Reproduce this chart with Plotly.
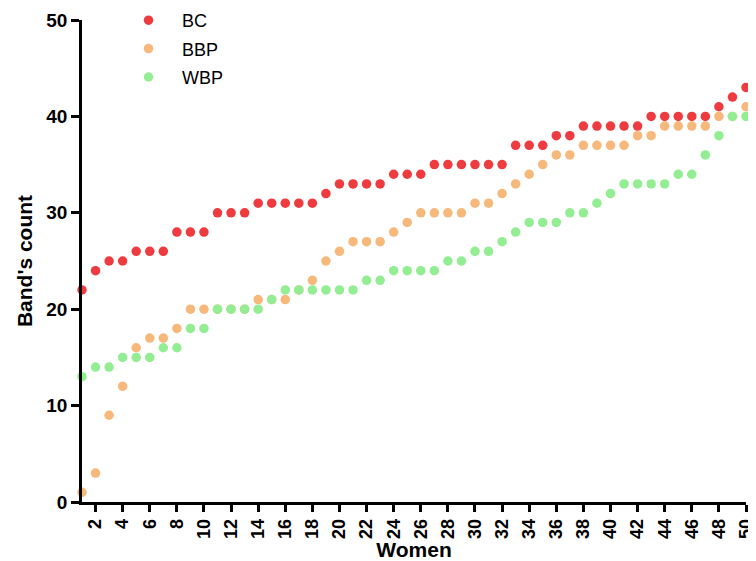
import plotly.graph_objects as go

women = list(range(1, 51))
bc = [22, 24, 25, 25, 26, 26, 26, 28, 28, 28,
      30, 30, 30, 31, 31, 31, 31, 31, 32, 33,
      33, 33, 33, 34, 34, 34, 35, 35, 35, 35,
      35, 35, 37, 37, 37, 38, 38, 39, 39, 39,
      39, 39, 40, 40, 40, 40, 40, 41, 42, 43]
bbp = [1, 3, 9, 12, 16, 17, 17, 18, 20, 20,
       20, 20, 20, 21, 21, 21, 22, 23, 25, 26,
       27, 27, 27, 28, 29, 30, 30, 30, 30, 31,
       31, 32, 33, 34, 35, 36, 36, 37, 37, 37,
       37, 38, 38, 39, 39, 39, 39, 40, 40, 41]
wbp = [13, 14, 14, 15, 15, 15, 16, 16, 18, 18,
       20, 20, 20, 20, 21, 22, 22, 22, 22, 22,
       22, 23, 23, 24, 24, 24, 24, 25, 25, 26,
       26, 27, 28, 29, 29, 29, 30, 30, 31, 32,
       33, 33, 33, 33, 34, 34, 36, 38, 40, 40]
x_ticks = list(range(2, 51, 2))
y_ticks = [0, 10, 20, 30, 40, 50]

FONT = "Arial, 'Liberation Sans', sans-serif"
series = [("BC", bc, "#EE3B3F"), ("BBP", bbp, "#F7B87C"), ("WBP", wbp, "#93EE93")]

# The page body has an 8px default margin, so the figure is 8px smaller
# than the window and every offset below is measured from (8, 8).
W, H = 748, 553
fig = go.Figure()
for name, vals, col in series:
    fig.add_trace(go.Scatter(
        x=women, y=vals, mode="markers", name=name, legendgroup=name,
        marker=dict(color=col, size=9.5, line=dict(width=0)),
        cliponaxis=False,
    ))

fig.update_layout(
    width=W, height=H,
    margin=dict(l=74, r=10, t=12, b=59, autoexpand=False),
    paper_bgcolor="white", plot_bgcolor="white",
    font=dict(family=FONT, color="black"),
    showlegend=True,
    legend=dict(x=(107 - 74) / 664, xanchor="left",
                y=1 + 18 / 482, yanchor="top",
                font=dict(size=18, family=FONT), tracegroupgap=2,
                bgcolor="rgba(0,0,0,0)", itemwidth=57),
    xaxis=dict(
        range=[1, 50], tickmode="array", tickvals=x_ticks,
        ticktext=[str(v) for v in x_ticks], tickangle=-90,
        showline=True, linecolor="black", linewidth=2.5,
        ticks="outside", ticklen=7, tickwidth=2.5, tickcolor="black",
        showgrid=False, zeroline=False,
        tickfont=dict(size=18, family=FONT, weight="bold"),
        title=dict(text="Women", font=dict(size=21, family=FONT, weight="bold"), standoff=0),
    ),
    yaxis=dict(
        range=[0, 50], tickmode="array", tickvals=y_ticks,
        showline=True, linecolor="black", linewidth=2.5,
        ticks="outside", ticklen=8, tickwidth=2.5, tickcolor="black",
        showgrid=False, zeroline=False,
        tickfont=dict(size=19, family=FONT, weight="bold"),
        title=dict(text="Band's count", font=dict(size=21, family=FONT, weight="bold"), standoff=8),
    ),
)

fig.write_html("out.html")
